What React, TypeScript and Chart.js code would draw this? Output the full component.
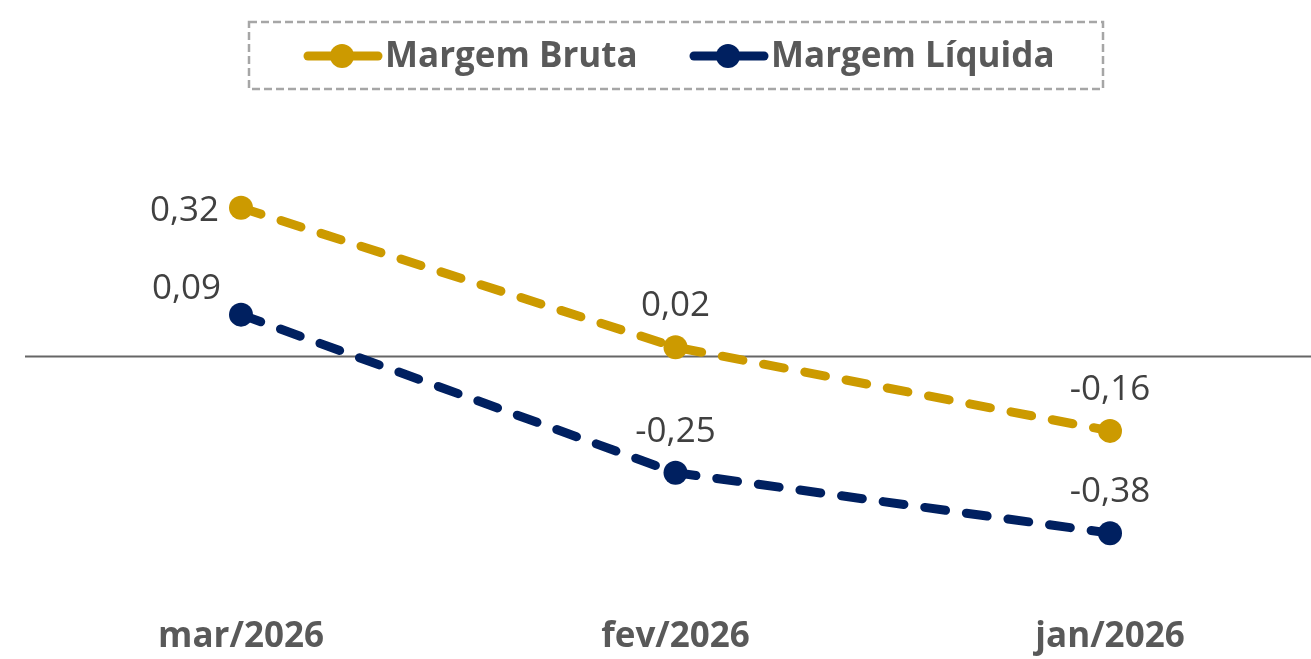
import React, { useEffect, useRef } from "react";
import { Chart, registerables } from "chart.js";

Chart.register(...registerables);

const categories = ["mar/2026", "fev/2026", "jan/2026"];
const margemBruta = [0.32, 0.02, -0.16];
const margemLiquida = [0.09, -0.25, -0.38];
const seriesNames = ["Margem Bruta", "Margem Líquida"];
const seriesColors = ["#CC9A00", "#002060"];

const FONT = "'Open Sans', 'Noto Sans', sans-serif";

const fmt = (v: number) => v.toFixed(2).replace(".", ",");

// label placement per series per point
const brutaPlacement = ["left", "above", "above"];
const liquidaPlacement = ["leftAbove", "above", "above"];

const zeroLinePlugin = {
  id: "zeroLine",
  beforeDatasetsDraw(chart: any) {
    const y = chart.scales.y.getPixelForValue(0);
    const ctx = chart.ctx;
    ctx.save();
    ctx.strokeStyle = "#666666";
    ctx.lineWidth = 2;
    ctx.beginPath();
    ctx.moveTo(25, y);
    ctx.lineTo(chart.width, y);
    ctx.stroke();
    ctx.restore();
  },
};

const labelsPlugin = {
  id: "valueLabels",
  afterDatasetsDraw(chart: any) {
    const ctx = chart.ctx;
    ctx.save();
    ctx.font = `35px ${FONT}`;
    ctx.fillStyle = "#404040";
    chart.data.datasets.forEach((ds: any, di: number) => {
      const meta = chart.getDatasetMeta(di);
      const placements = di === 0 ? brutaPlacement : liquidaPlacement;
      meta.data.forEach((pt: any, i: number) => {
        const txt = fmt(ds.data[i]);
        const p = placements[i];
        ctx.textBaseline = "middle";
        if (p === "left") {
          ctx.textAlign = "right";
          ctx.fillText(txt, pt.x - 22, pt.y + 3);
        } else if (p === "leftAbove") {
          ctx.textAlign = "right";
          ctx.fillText(txt, pt.x - 20, pt.y - 26);
        } else {
          ctx.textAlign = "center";
          ctx.fillText(txt, pt.x, pt.y - 41);
        }
      });
    });
    ctx.restore();
  },
};

const legendPlugin = {
  id: "customLegend",
  afterDraw(chart: any) {
    const ctx = chart.ctx;
    ctx.save();
    ctx.strokeStyle = "#A6A6A6";
    ctx.lineWidth = 2.5;
    ctx.setLineDash([8, 4]);
    ctx.strokeRect(249, 22, 854, 67);
    ctx.setLineDash([]);
    const items = [
      { x: 304, color: seriesColors[0], text: seriesNames[0] },
      { x: 690, color: seriesColors[1], text: seriesNames[1] },
    ];
    const y = 56;
    items.forEach((it) => {
      ctx.strokeStyle = it.color;
      ctx.lineWidth = 9;
      ctx.lineCap = "round";
      ctx.beginPath();
      ctx.moveTo(it.x + 4, y);
      ctx.lineTo(it.x + 74, y);
      ctx.stroke();
      ctx.fillStyle = it.color;
      ctx.beginPath();
      ctx.arc(it.x + 38, y, 12, 0, Math.PI * 2);
      ctx.fill();
      ctx.fillStyle = "#595959";
      ctx.font = `bold 35px ${FONT}`;
      ctx.textAlign = "left";
      ctx.textBaseline = "middle";
      ctx.fillText(it.text, it.x + 81, y + 1);
    });
    ctx.restore();
  },
};

export default function App() {
  const ref = useRef<HTMLCanvasElement | null>(null);
  useEffect(() => {
    if (!ref.current) return;
    const mk = (label: string, data: number[], color: string) => ({
      label,
      data,
      borderColor: color,
      backgroundColor: color,
      borderWidth: 9,
      borderDash: [21, 21],
      borderCapStyle: "round" as const,
      pointRadius: 12,
      pointHoverRadius: 12,
      pointBackgroundColor: color,
      pointBorderWidth: 0,
      tension: 0,
      fill: false,
    });
    const chart = new Chart(ref.current, {
      type: "line",
      data: {
        labels: categories,
        datasets: [
          mk(seriesNames[0], margemBruta, seriesColors[0]),
          mk(seriesNames[1], margemLiquida, seriesColors[1]),
        ],
      },
      options: {
        animation: false,
        responsive: false,
        maintainAspectRatio: false,
        layout: { padding: { left: 241, right: 201, top: 124, bottom: 0 } },
        plugins: { legend: { display: false }, tooltip: { enabled: false } },
        scales: {
          x: {
            offset: false,
            grid: { display: false, drawTicks: false },
            border: { display: false },
            ticks: {
              color: "#595959",
              font: { family: FONT, size: 35, weight: "bold" },
              padding: 1,
              maxRotation: 0,
            },
          },
          y: {
            display: false,
            min: -0.556,
            max: 0.5,
          },
        },
      },
      plugins: [zeroLinePlugin, labelsPlugin, legendPlugin],
    });
    return () => chart.destroy();
  }, []);
  return (
    <div style={{ position: "absolute", left: 0, top: 0, width: 1311, height: 659 }}>
      <canvas ref={ref} width={1311} height={659} style={{ display: "block" }} />
    </div>
  );
}
